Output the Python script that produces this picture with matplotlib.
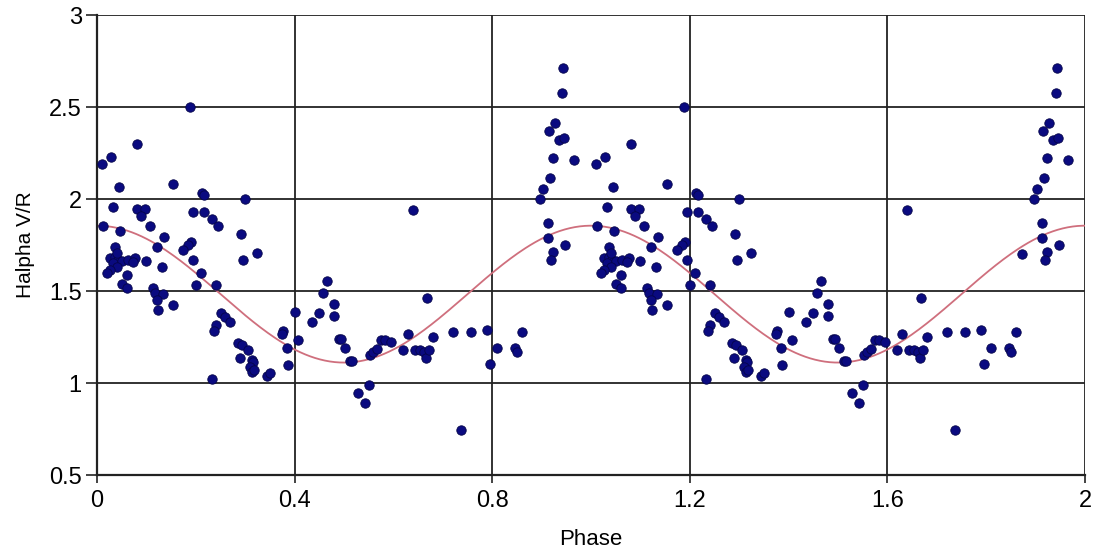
import numpy as np
import matplotlib
matplotlib.use("Agg")
import matplotlib.pyplot as plt

plt.rcParams['font.family'] = ['Liberation Sans', 'DejaVu Sans']

# Observations folded on one cycle (phase 0-1); plotted for two cycles
phase = [0.0095, 0.0128, 0.028, 0.045, 0.033, 0.080, 0.188, 0.154, 0.212, 0.216,
         0.300, 0.080, 0.097, 0.090, 0.195, 0.217, 0.233, 0.244, 0.107, 0.047,
         0.136, 0.291, 0.191, 0.185, 0.175, 0.121, 0.323, 0.296, 0.036, 0.026,
         0.036, 0.043, 0.033, 0.050, 0.040, 0.026, 0.020, 0.063, 0.077, 0.073,
         0.100, 0.040, 0.195, 0.131, 0.060, 0.211, 0.201, 0.241, 0.050, 0.060,
         0.114, 0.117, 0.134, 0.121, 0.124, 0.153, 0.251, 0.260, 0.269, 0.241,
         0.236, 0.286, 0.293, 0.306, 0.289, 0.313, 0.316, 0.309, 0.313, 0.318,
         0.344, 0.350, 0.232, 0.639, 0.466, 0.458, 0.480, 0.479, 0.450, 0.436,
         0.669, 0.400, 0.377, 0.374, 0.406, 0.384, 0.387, 0.489, 0.494, 0.503,
         0.512, 0.516, 0.553, 0.559, 0.566, 0.574, 0.583, 0.595, 0.629, 0.620,
         0.644, 0.654, 0.661, 0.667, 0.672, 0.681, 0.529, 0.551, 0.543, 0.943,
         0.941, 0.928, 0.915, 0.935, 0.945, 0.924, 0.966, 0.918, 0.903, 0.897,
         0.912, 0.912, 0.947, 0.924, 0.920, 0.721, 0.758, 0.790, 0.796, 0.810,
         0.846, 0.851, 0.860, 0.737]
halpha_vr = [2.19, 1.855, 2.23, 2.064, 1.955, 2.30, 2.50, 2.08, 2.034, 2.02,
             2.00, 1.947, 1.944, 1.908, 1.93, 1.93, 1.89, 1.853, 1.855, 1.828,
             1.795, 1.81, 1.765, 1.75, 1.723, 1.741, 1.705, 1.668, 1.741, 1.678,
             1.686, 1.668, 1.65, 1.663, 1.632, 1.614, 1.60, 1.668, 1.678, 1.659,
             1.663, 1.705, 1.668, 1.632, 1.587, 1.596, 1.533, 1.533, 1.536, 1.518,
             1.515, 1.487, 1.482, 1.45, 1.395, 1.424, 1.379, 1.36, 1.333, 1.315,
             1.282, 1.219, 1.207, 1.179, 1.134, 1.125, 1.116, 1.085, 1.062, 1.072,
             1.04, 1.053, 1.023, 1.94, 1.552, 1.49, 1.431, 1.365, 1.382, 1.332,
             1.464, 1.388, 1.280, 1.264, 1.236, 1.190, 1.100, 1.240, 1.237, 1.192,
             1.120, 1.118, 1.152, 1.168, 1.186, 1.236, 1.234, 1.222, 1.265, 1.179,
             1.179, 1.179, 1.170, 1.134, 1.179, 1.252, 0.944, 0.989, 0.893, 2.71,
             2.574, 2.415, 2.371, 2.321, 2.33, 2.221, 2.212, 2.116, 2.053, 2.0,
             1.871, 1.79, 1.75, 1.714, 1.668, 1.279, 1.279, 1.288, 1.102, 1.192,
             1.189, 1.17, 1.279, 0.745]
# point visible only in the second cycle
extra_phase = [1.872]
extra_vr = [1.701]

# sinusoidal fit
fit_mean = 1.483
fit_amp = 0.372

x_ticks = [0, 0.4, 0.8, 1.2, 1.6, 2]
x_ticklabels = ['0', '0.4', '0.8', '1.2', '1.6', '2']
y_ticks = [0.5, 1, 1.5, 2, 2.5, 3]
y_ticklabels = ['0.5', '1', '1.5', '2', '2.5', '3']

fig = plt.figure(figsize=(10.97, 5.55), dpi=100)
ax = fig.add_axes([97/1097, 1-475/555, (1085-97)/1097, (475-15)/555])

ph = np.array(phase)
vr = np.array(halpha_vr)
all_x = np.concatenate([ph, ph + 1, extra_phase])
all_y = np.concatenate([vr, vr, extra_vr])

xs = np.linspace(0, 2, 400)
ax.plot(xs, fit_mean + fit_amp * np.cos(2 * np.pi * xs), color='#cf6f7d', lw=1.3, zorder=2)
ax.scatter(all_x, all_y, s=46, color='#0a0a80', edgecolors='#05054a', linewidths=0.6, zorder=3)

ax.set_xlim(0, 2)
ax.set_ylim(0.5, 3)
ax.set_xticks(x_ticks)
ax.set_xticklabels(x_ticklabels)
ax.set_yticks(y_ticks)
ax.set_yticklabels(y_ticklabels)
ax.grid(True, color='#222222', lw=1.3)
ax.set_axisbelow(True)
for s in ['top', 'right']:
    ax.spines[s].set_visible(False)
for s in ['left', 'bottom']:
    ax.spines[s].set_linewidth(1.6)
    ax.spines[s].set_color('#222222')
ax.tick_params(axis='x', length=6, width=1.2, color='#222222', labelsize=17, pad=5)
ax.tick_params(axis='y', length=8, width=1.2, color='#222222', labelsize=17, pad=3)
ax.set_xlabel('Phase', fontsize=16, labelpad=12)
ax.set_ylabel('Halpha V/R', fontsize=15, labelpad=10)

fig.savefig('out.png', dpi=100)
